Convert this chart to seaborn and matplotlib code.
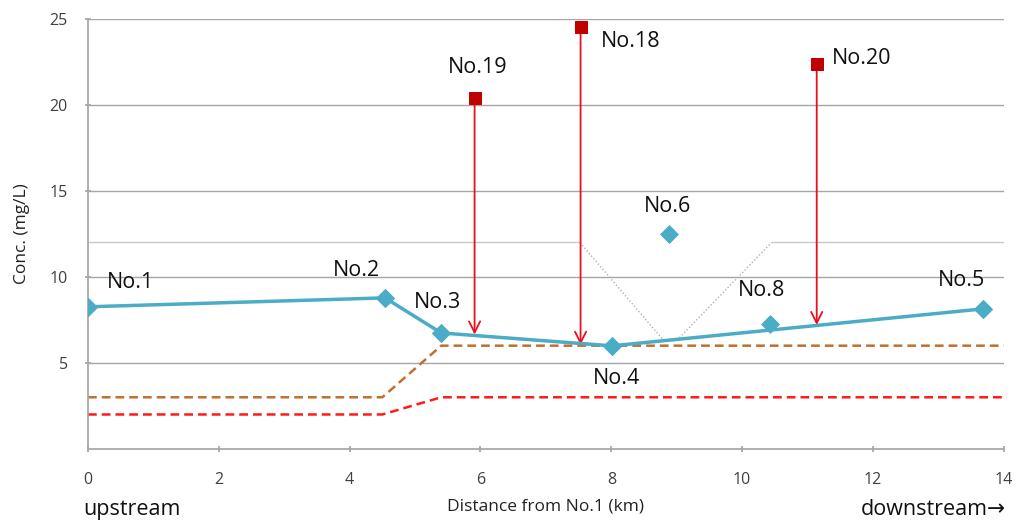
import matplotlib
matplotlib.use("Agg")
import matplotlib.pyplot as plt
import seaborn as sns
import pandas as pd

# Main river stations (on the line)
line_names = ["No.1", "No.2", "No.3", "No.4", "No.5"]
line_x = [0.0, 4.54, 5.40, 8.01, 13.68]
line_y = [8.26, 8.78, 6.74, 5.99, 8.14]

# Off-line river stations
extra_names = ["No.6", "No.8"]
extra_x = [8.88, 10.42]
extra_y = [12.5, 7.27]

# Tributaries (red squares) and where they join
trib_names = ["No.19", "No.18", "No.20"]
trib_x = [5.91, 7.53, 11.14]
trib_y = [20.4, 24.5, 22.4]
trib_join_y = [6.65, 6.05, 7.2]

# Standard lines
std_x = [0.0, 4.5, 5.4, 14.0]
std_brown = [3.0, 3.0, 6.0, 6.0]
std_red = [2.0, 2.0, 3.0, 3.0]
grey_x = [0.0, 7.52, 8.8, 9.0, 10.45, 14.0]
grey_y = [12.0, 12.0, 6.3, 6.3, 12.0, 12.0]

# Label positions
lab_pos = {
    "No.1": (0.65, 9.7), "No.2": (4.1, 10.4), "No.3": (5.35, 8.5),
    "No.4": (8.08, 4.1), "No.5": (13.36, 9.8), "No.6": (8.86, 14.1),
    "No.8": (10.3, 9.2), "No.19": (5.96, 22.2), "No.18": (8.3, 23.7),
    "No.20": (11.83, 22.7),
}

sns.set_theme(style="white")
plt.rcParams['font.family'] = ['Open Sans', 'DejaVu Sans']

fig = plt.figure(figsize=(10.16, 5.25), dpi=100)
ax = fig.add_axes([0.0866, 0.145, 0.9014, 0.819])

blue = "#4bacc6"
ax.set_xlim(0, 14)
ax.set_ylim(0, 25)
for v in [5, 10, 15, 20, 25]:
    ax.axhline(v, color="#a6a6a6", lw=1.0, zorder=0)

# grey line: solid horizontal parts, dotted diagonal parts
sns.lineplot(x=grey_x[:2], y=grey_y[:2], ax=ax, color="#c8c8c8", lw=1.0, zorder=1)
sns.lineplot(x=grey_x[4:], y=grey_y[4:], ax=ax, color="#c8c8c8", lw=1.0, zorder=1)
sns.lineplot(x=grey_x[1:5], y=grey_y[1:5], ax=ax, color="#b0b0b0", lw=1.0,
             linestyle=(0, (1, 1.5)), zorder=1, sort=False)
sns.lineplot(x=std_x, y=std_brown, ax=ax, color="#c0702e", lw=1.8, linestyle=(0, (3.5, 2)), zorder=2)
sns.lineplot(x=std_x, y=std_red, ax=ax, color="#ff1a1a", lw=1.8, linestyle=(0, (3.5, 2)), zorder=2)

df = pd.DataFrame({"x": line_x, "y": line_y})
sns.lineplot(data=df, x="x", y="y", ax=ax, color=blue, lw=2.5, marker="D",
             markersize=9, markeredgecolor=blue, zorder=4)
sns.scatterplot(x=extra_x, y=extra_y, ax=ax, color=blue, marker="D", s=80,
                edgecolor=blue, zorder=4)

for tx, ty, jy in zip(trib_x, trib_y, trib_join_y):
    ax.annotate("", xy=(tx, jy), xytext=(tx, ty),
                arrowprops=dict(arrowstyle="->", color="#e8101c", lw=1.3,
                                mutation_scale=20, shrinkA=0, shrinkB=0), zorder=3)
sns.scatterplot(x=trib_x, y=trib_y, ax=ax, color="#c00000", marker="s", s=80,
                edgecolor="#c00000", zorder=5)

for name, (lx, ly) in lab_pos.items():
    ax.text(lx, ly, name, fontsize=15.5, ha="center", va="center", color="#111111")

for s in ["top", "right"]:
    ax.spines[s].set_visible(False)
for s in ["left", "bottom"]:
    ax.spines[s].set_color("#a6a6a6")
ax.set_xticks(range(0, 15, 2))
ax.set_yticks([5, 10, 15, 20, 25])
ax.tick_params(axis="both", colors="#a6a6a6", labelcolor="#404040", labelsize=11.5,
               length=5, direction="inout", left=True, bottom=True)
ax.tick_params(axis="x", pad=14)
ax.tick_params(axis="y", pad=12)
ax.set_xlabel("Distance from No.1 (km)", fontsize=12.5, color="#222222", labelpad=8)
ax.set_ylabel("Conc. (mg/L)", fontsize=12.5, color="#222222", labelpad=14)
fig.text(0.082, 0.01, "upstream", fontsize=15.5, ha="left", va="bottom", color="#111111")
fig.text(0.99, 0.01, "downstream→", fontsize=15.5, ha="right", va="bottom", color="#111111",
         family=['Open Sans', 'DejaVu Sans'])

fig.savefig("out.png", dpi=100)
